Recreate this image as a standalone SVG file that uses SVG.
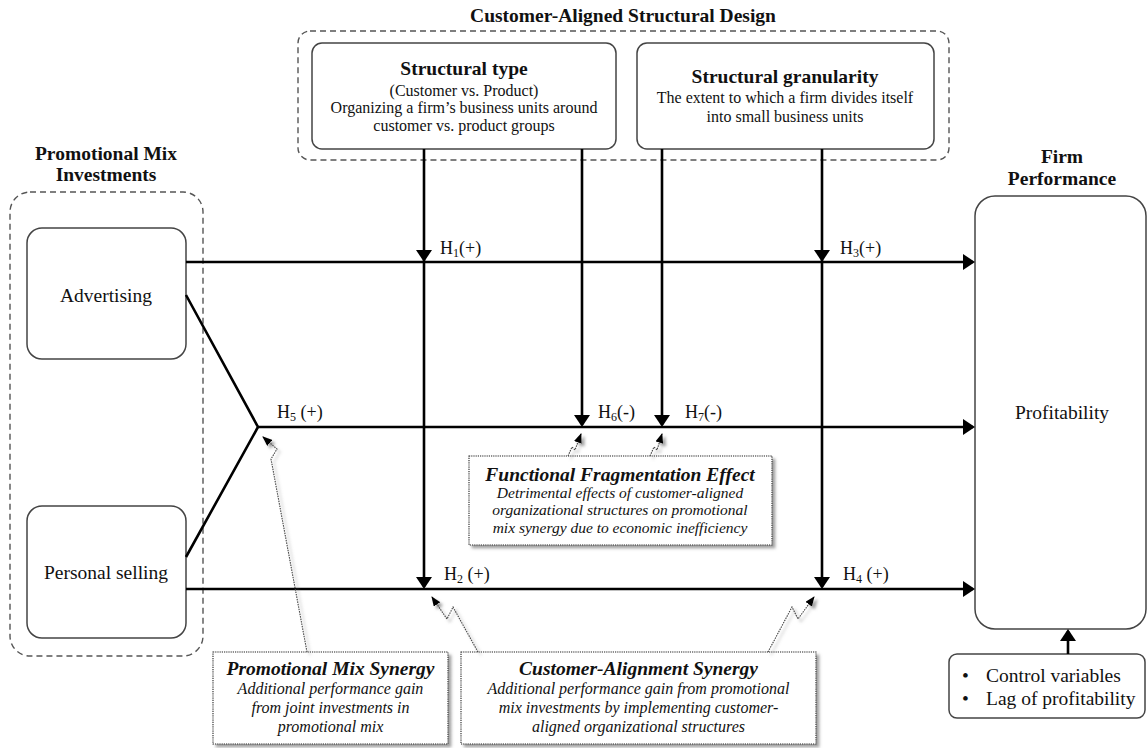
<svg xmlns="http://www.w3.org/2000/svg" width="1147" height="748" viewBox="0 0 1147 748">
<style>
text{font-family:"Liberation Serif","Times New Roman",serif;fill:#111}
.h{font-weight:bold;font-size:19.5px}
.r{font-size:19.5px}
.b{font-size:16px}
.bi{font-weight:bold;font-style:italic;font-size:19.5px}
.i{font-style:italic;font-size:16px}
.lab{font-size:18px}
.sub{font-size:12px}
.box{fill:#fff;stroke:#444;stroke-width:1.5}
.dash{fill:none;stroke:#555;stroke-width:1.4;stroke-dasharray:6 4}
.dot{fill:#fff;stroke:#222;stroke-width:1.1;stroke-dasharray:1.2 1}
.ln{fill:none;stroke:#000;stroke-width:2.6}
.zz{fill:none;stroke:#444;stroke-width:1.1;stroke-dasharray:1.5 1}
</style>
<defs>
<marker id="ah" viewBox="0 0 12 16" markerWidth="12" markerHeight="16" refX="10" refY="8" orient="auto" markerUnits="userSpaceOnUse">
<path d="M0,0 L12,8 L0,16 z" fill="#000"/>
</marker>
<marker id="sa" viewBox="0 0 10 8" markerWidth="10" markerHeight="8" refX="9" refY="4" orient="auto" markerUnits="userSpaceOnUse">
<path d="M0,0 L10,4 L0,8 z" fill="#000"/>
</marker>
<filter id="sh" x="-10%" y="-10%" width="130%" height="130%">
<feDropShadow dx="3" dy="3" stdDeviation="1.8" flood-color="#777" flood-opacity="0.7"/>
</filter>
</defs>

<g id="structural-design">
<rect class="dash" x="298" y="31" width="651" height="129" rx="12"/>
<text class="h" x="623" y="22" text-anchor="middle">Customer-Aligned Structural Design</text>
</g>

<g id="structural-type">
<rect class="box" x="312" y="43" width="304" height="106" rx="10"/>
<text class="h" x="464" y="75" text-anchor="middle">Structural type</text>
<text class="b" x="464" y="96" text-anchor="middle">(Customer vs. Product)</text>
<text class="b" x="464" y="113" text-anchor="middle">Organizing a firm’s business units around</text>
<text class="b" x="464" y="131" text-anchor="middle">customer vs. product groups</text>
</g>

<g id="structural-granularity">
<rect class="box" x="637" y="43" width="297" height="106" rx="10"/>
<text class="h" x="785" y="83" text-anchor="middle">Structural granularity</text>
<text class="b" x="785" y="103" text-anchor="middle">The extent to which a firm divides itself</text>
<text class="b" x="785" y="122" text-anchor="middle">into small business units</text>
</g>

<g id="promotional-mix">
<rect class="dash" x="10" y="192" width="193" height="464" rx="20"/>
<text class="h" x="106" y="160" text-anchor="middle">Promotional Mix</text>
<text class="h" x="106" y="181" text-anchor="middle">Investments</text>
</g>

<g id="advertising">
<rect class="box" x="27" y="228" width="159" height="131" rx="15"/>
<text class="r" x="106" y="302" text-anchor="middle">Advertising</text>
</g>

<g id="personal-selling">
<rect class="box" x="27" y="506" width="159" height="132" rx="15"/>
<text class="r" x="106" y="579" text-anchor="middle">Personal selling</text>
</g>

<g id="firm-performance">
<text class="h" x="1062" y="163" text-anchor="middle">Firm</text>
<text class="h" x="1062" y="185" text-anchor="middle">Performance</text>
<rect class="box" x="975" y="196" width="171" height="433" rx="20"/>
<text class="r" x="1062" y="419" text-anchor="middle">Profitability</text>
</g>

<g id="controls">
<rect class="box" x="949" y="654" width="196" height="64" rx="8"/>
<text class="r" x="962" y="682">•</text>
<text class="r" x="986" y="682">Control variables</text>
<text class="r" x="962" y="705">•</text>
<text class="r" x="986" y="705">Lag of profitability</text>
</g>

<g id="functional-fragmentation" filter="url(#sh)">
<rect class="dot" x="469" y="456" width="303" height="89"/>
</g>
<g id="functional-fragmentation-text">
<text class="bi" x="620" y="481" text-anchor="middle">Functional Fragmentation Effect</text>
<text class="i" x="620" y="498" text-anchor="middle" style="font-size:15.5px">Detrimental effects of customer-aligned</text>
<text class="i" x="620" y="515" text-anchor="middle" style="font-size:15.5px">organizational structures on promotional</text>
<text class="i" x="620" y="533" text-anchor="middle" style="font-size:15.5px">mix synergy due to economic inefficiency</text>
</g>

<g id="promotional-mix-synergy">
<rect class="dot" x="213" y="652" width="235" height="92" filter="url(#sh)"/>
<text class="bi" x="330.5" y="675" text-anchor="middle">Promotional Mix Synergy</text>
<text class="i" x="330.5" y="694" text-anchor="middle">Additional performance gain</text>
<text class="i" x="330.5" y="713" text-anchor="middle">from joint investments in</text>
<text class="i" x="330.5" y="732" text-anchor="middle">promotional mix</text>
</g>

<g id="customer-alignment-synergy">
<rect class="dot" x="461" y="652" width="355" height="92" filter="url(#sh)"/>
<text class="bi" x="638.5" y="675" text-anchor="middle">Customer-Alignment Synergy</text>
<text class="i" x="638.5" y="694" text-anchor="middle">Additional performance gain from promotional</text>
<text class="i" x="638.5" y="713" text-anchor="middle">mix investments by implementing customer-</text>
<text class="i" x="638.5" y="732" text-anchor="middle">aligned organizational structures</text>
</g>

<g id="connectors">
<line class="ln" x1="186" y1="262" x2="973" y2="262" marker-end="url(#ah)"/>
<line class="ln" x1="258" y1="427" x2="973" y2="427" marker-end="url(#ah)"/>
<line class="ln" x1="186" y1="589" x2="973" y2="589" marker-end="url(#ah)"/>
<polyline class="ln" points="186,295 258,427 186,557"/>
<line class="ln" x1="424" y1="149" x2="424" y2="260" marker-end="url(#ah)"/>
<line class="ln" x1="424" y1="260" x2="424" y2="587" marker-end="url(#ah)"/>
<line class="ln" x1="822" y1="149" x2="822" y2="260" marker-end="url(#ah)"/>
<line class="ln" x1="822" y1="260" x2="822" y2="587" marker-end="url(#ah)"/>
<line class="ln" x1="582" y1="149" x2="582" y2="425" marker-end="url(#ah)"/>
<line class="ln" x1="662" y1="149" x2="662" y2="425" marker-end="url(#ah)"/>
<line class="ln" x1="1068" y1="654" x2="1068" y2="631" marker-end="url(#ah)"/>
<g filter="url(#sh)">
<polyline class="zz" points="307,652 271,459 277,449 263,437" marker-end="url(#sa)"/>
<polyline class="zz" points="478,652 453,607 447,619 432,597" marker-end="url(#sa)"/>
<polyline class="zz" points="768,652 792,607 798,619 814,597" marker-end="url(#sa)"/>
<polyline class="zz" points="568,456 572,447 575,450 581,434" marker-end="url(#sa)"/>
<polyline class="zz" points="650,456 654,447 657,450 662,434" marker-end="url(#sa)"/>
</g>
</g>

<g id="labels">
<text class="lab" x="440" y="254">H<tspan class="sub" dy="3">1</tspan><tspan dy="-3">(+)</tspan></text>
<text class="lab" x="840" y="254">H<tspan class="sub" dy="3">3</tspan><tspan dy="-3">(+)</tspan></text>
<text class="lab" x="277" y="418">H<tspan class="sub" dy="3">5</tspan><tspan dy="-3"> (+)</tspan></text>
<text class="lab" x="598" y="418">H<tspan class="sub" dy="3">6</tspan><tspan dy="-3">(-)</tspan></text>
<text class="lab" x="685" y="418">H<tspan class="sub" dy="3">7</tspan><tspan dy="-3">(-)</tspan></text>
<text class="lab" x="444" y="580">H<tspan class="sub" dy="3">2</tspan><tspan dy="-3"> (+)</tspan></text>
<text class="lab" x="843" y="580">H<tspan class="sub" dy="3">4</tspan><tspan dy="-3"> (+)</tspan></text>
</g>
</svg>
